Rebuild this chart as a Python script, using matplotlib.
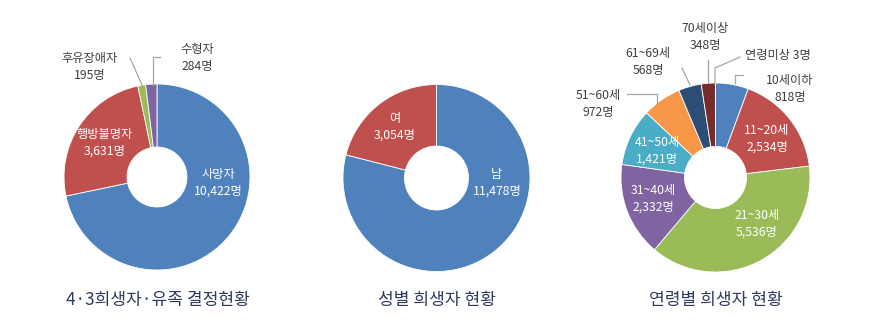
import matplotlib
matplotlib.use("Agg")
import matplotlib.pyplot as plt

plt.rcParams['font.family'] = ['Noto Sans CJK KR', 'DejaVu Sans']

# 4·3 victims / families
status_labels = ['사망자', '행방불명자', '후유장애자', '수형자']
status_values = [10422, 3631, 195, 284]
status_colors = ['#4f81bd', '#c0504d', '#9bbb59', '#8064a2']

# by sex
sex_labels = ['남', '여']
sex_values = [11478, 3054]
sex_colors = ['#4f81bd', '#c0504d']

# by age
age_labels = ['10세이하', '11~20세', '21~30세', '31~40세', '41~50세',
              '51~60세', '61~69세', '70세이상', '연령미상']
age_values = [818, 2534, 5536, 2332, 1421, 972, 568, 348, 3]
age_colors = ['#4f81bd', '#c0504d', '#9bbb59', '#8064a2', '#4bacc6',
              '#f79646', '#2c4d75', '#772c2a', '#5f7530']

titles = ['4·3희생자·유족 결정현황', '성별 희생자 현황', '연령별 희생자 현황']

W, H = 877, 334
fig = plt.figure(figsize=(W / 100, H / 100), dpi=100)
ax = fig.add_axes([0, 0, 1, 1])

text_dark = '#404040'
line_gray = '#a6a6a6'
title_color = '#2e3b5e'


def px(x, y):
    # picture coords (y down) -> axes data coords (y up)
    return x, H - y


def donut(center, radius, hole, values, colors):
    ax.pie(values, colors=colors, startangle=90, counterclock=False,
           center=px(*center), radius=radius,
           wedgeprops=dict(width=radius - hole, edgecolor='white', linewidth=0.6))


def label(x, y, s, color='white', ha='center'):
    ax.text(*px(x, y), s, ha=ha, va='center', fontsize=8.8, color=color,
            linespacing=1.35)


def leader(xs, ys):
    ax.plot(xs, [H - y for y in ys], color=line_gray, lw=0.9)


fmt = lambda n: f'{n:,}명'

# chart 1
donut((157, 177), 93, 30, status_values, status_colors)
label(218, 183, f'{status_labels[0]}\n{fmt(status_values[0])}')
label(105, 143, f'{status_labels[1]}\n{fmt(status_values[1])}')
label(90, 67, f'{status_labels[2]}\n{fmt(status_values[2])}', color=text_dark)
label(197, 58, f'{status_labels[3]}\n{fmt(status_values[3])}', color=text_dark)
leader([130, 142], [58, 85])
leader([153, 153, 160], [85, 57, 57])

# chart 2
donut((436.5, 178), 93.5, 32, sex_values, sex_colors)
label(497, 183, f'{sex_labels[0]}\n{fmt(sex_values[0])}')
label(395, 127, f'{sex_labels[1]}\n{fmt(sex_values[1])}')

# chart 3
donut((715.5, 177.5), 94.5, 31, age_values, age_colors)
label(790, 89, f'{age_labels[0]}\n{fmt(age_values[0])}', color=text_dark)
label(767, 139, f'{age_labels[1]}\n{fmt(age_values[1])}')
label(757, 224, f'{age_labels[2]}\n{fmt(age_values[2])}')
label(653, 199, f'{age_labels[3]}\n{fmt(age_values[3])}')
label(657, 151, f'{age_labels[4]}\n{fmt(age_values[4])}')
label(598, 104, f'{age_labels[5]}\n{fmt(age_values[5])}', color=text_dark)
label(648, 62, f'{age_labels[6]}\n{fmt(age_values[6])}', color=text_dark)
label(705, 37, f'{age_labels[7]}\n{fmt(age_values[7])}', color=text_dark)
label(745, 55, f'{age_labels[8]} {age_values[8]}명', color=text_dark, ha='left')
leader([735, 735, 743], [83, 75, 75])
leader([627, 657, 657], [94, 94, 103])
leader([682, 690], [68, 85])
leader([708, 708], [60, 83])
leader([715, 715, 740], [83, 68, 57])

# titles
for cx, t in zip([158, 437, 716], titles):
    ax.text(*px(cx, 300), t, ha='center', va='center', fontsize=12.3,
            color=title_color)

ax.set_xlim(0, W)
ax.set_ylim(0, H)
ax.set_aspect('equal')
ax.axis('off')

fig.savefig('out.png', dpi=100, facecolor='white')
